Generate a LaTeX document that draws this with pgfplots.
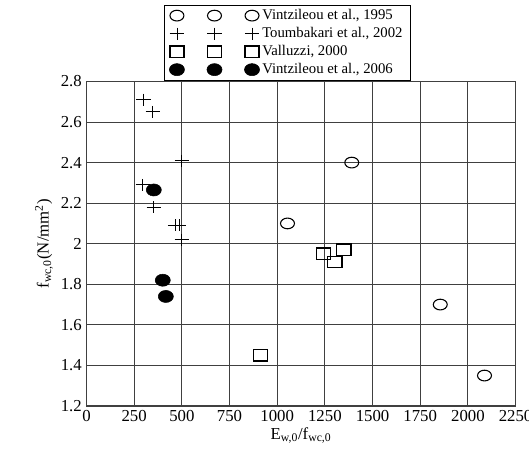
\documentclass[border=0pt]{standalone}
\usepackage{fontspec}
\setmainfont{Liberation Serif}
\usepackage{pgfplots}
\pgfplotsset{compat=1.18}

\pgfplotsset{
  threemarks/.style={
    legend image code/.code={
      \draw[##1] plot coordinates {(0pt,0pt) (28pt,0pt) (56pt,0pt)};}
  }
}

\begin{document}
\begin{tikzpicture}
\begin{axis}[
  name=ax,
  width=320pt, height=242pt, scale only axis,
  xmin=0, xmax=2250, ymin=1.2, ymax=2.8,
  xtick={0,250,500,750,1000,1250,1500,1750,2000,2250},
  ytick={1.2,1.4,1.6,1.8,2,2.2,2.4,2.6,2.8},
  scaled ticks=false,
  /pgf/number format/1000 sep={},
  /pgf/number format/assume math mode=true,
  tick label style={font=\fontsize{12.5}{12.5}\selectfont},
  major tick length=0pt,
  grid=major,
  major grid style={draw=black!75, line width=0.7pt},
  axis line style={draw=black!75, line width=0.8pt},
  xlabel={E\textsubscript{w,0}/f\textsubscript{wc,0}},
  ylabel={f\textsubscript{wc,0}(N/mm\textsuperscript{2})},
  label style={font=\fontsize{12.5}{14}\selectfont},
  xlabel style={yshift=3pt},
  ylabel style={yshift=-1pt},
  legend style={at={(0.468,1.235)}, anchor=north, draw=black,
    font=\fontsize{11}{12.5}\selectfont, cells={anchor=west},
    inner xsep=4pt, inner ysep=1pt, row sep=0.3pt,
    /tikz/every even column/.append style={column sep=3pt}},
]
% Vintzileou et al., 1995
\addplot[only marks, mark=o, mark size=4pt, line width=0.8pt,
  mark options={xscale=1.3}, threemarks] coordinates {
  (1054,2.10) (1391,2.40) (1855,1.70) (2087,1.35)};
% Toumbakari et al., 2002
\addplot[only marks, mark=+, mark size=4.5pt, line width=0.6pt,
  mark options={xscale=1.2}, threemarks] coordinates {
  (300,2.71) (348,2.65) (500,2.41) (295,2.29) (353,2.18)
  (465,2.09) (485,2.09) (500,2.02)};
% Valluzzi, 2000
\addplot[only marks, mark=square, mark size=4.2pt, line width=1.1pt,
  mark options={xscale=1.25}, threemarks] coordinates {
  (912,1.45) (1243,1.95) (1302,1.91) (1349,1.97)};
% Vintzileou et al., 2006
\addplot[only marks, mark=*, mark size=4.5pt,
  mark options={xscale=1.25, fill=black}, threemarks] coordinates {
  (353,2.265) (400,1.82) (416,1.74)};
\legend{{Vintzileou et al., 1995}, {Toumbakari et al., 2002},
  {Valluzzi, 2000}, {Vintzileou et al., 2006}}
\end{axis}
\pgfresetboundingbox
\path[use as bounding box] ([xshift=-64.5pt,yshift=-33pt]ax.south west)
  rectangle ([xshift=10pt,yshift=60.75pt]ax.north east);
\end{tikzpicture}
\end{document}
